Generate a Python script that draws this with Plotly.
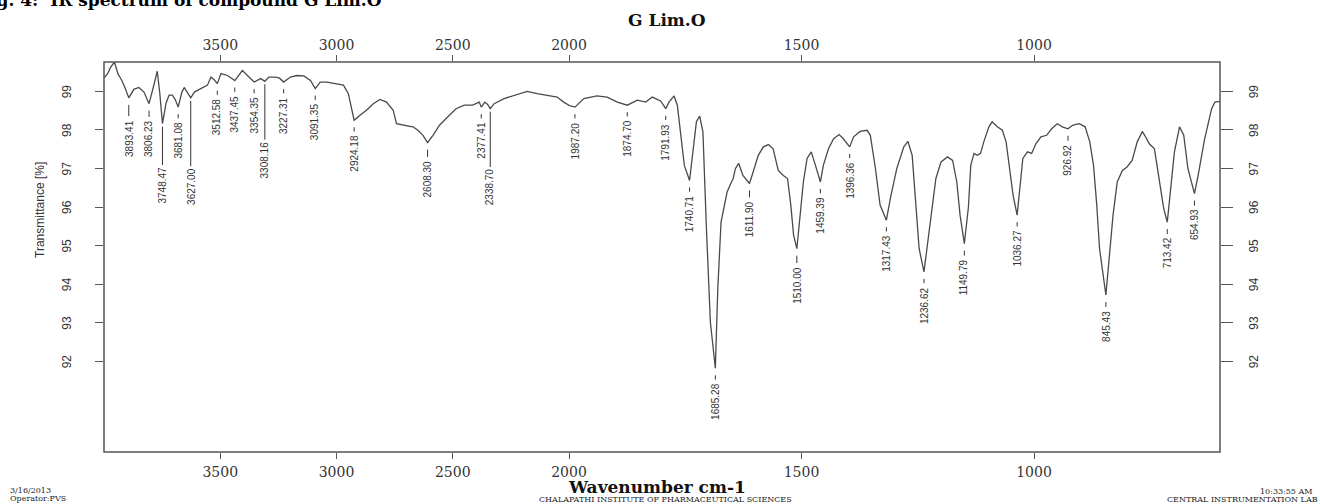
import numpy as np
import plotly.graph_objects as go

# ---------------- data ----------------
wavenumber = [
    4000, 3985, 3972, 3955, 3940, 3925, 3910, 3893.41, 3872, 3850, 3828, 3806.23,
    3786, 3771, 3760, 3748.47, 3733, 3720, 3706, 3693, 3681.08, 3665, 3655, 3643,
    3627.00, 3611, 3582, 3555, 3540, 3526, 3512.58, 3497, 3469, 3437.45, 3405, 3376,
    3354.35, 3326, 3308.16, 3291, 3262, 3245, 3227.31, 3198, 3170, 3141, 3112,
    3091.35, 3070, 3041, 2999, 2970, 2949, 2935, 2924.18, 2899, 2871, 2842, 2813,
    2785, 2756, 2742, 2714, 2690, 2671, 2650, 2628, 2608.30, 2585, 2557, 2521, 2486,
    2450, 2415, 2386, 2377.41, 2362, 2350, 2338.70, 2322, 2279, 2236, 2180, 2137,
    2094, 2051, 2023, 1987.20, 1968, 1940, 1918, 1896, 1874.70, 1853, 1835, 1821,
    1803, 1791.93, 1785, 1774, 1767, 1760, 1752, 1740.71, 1734, 1726, 1719, 1712,
    1705, 1696, 1685.28, 1680, 1673, 1664, 1660, 1654, 1647, 1642, 1635, 1626,
    1611.90, 1604, 1593, 1582, 1571, 1561, 1550, 1539, 1530, 1523, 1517, 1510.00,
    1503, 1496, 1488, 1479, 1470, 1459.39, 1453, 1442, 1431, 1419, 1410, 1396.36,
    1388, 1374, 1359, 1352, 1341, 1331, 1317.43, 1309, 1295, 1280, 1271, 1262,
    1254, 1247, 1236.62, 1230, 1222, 1211, 1200, 1186, 1175, 1166, 1159, 1149.79,
    1141, 1136, 1129, 1122, 1115, 1108, 1097, 1090, 1079, 1068, 1060, 1052, 1045,
    1036.27, 1031, 1024, 1014, 1005, 996, 985, 973, 962, 950, 939, 926.92, 917,
    903, 890, 880, 872, 865, 859, 845.43, 839, 830, 821, 810, 800, 789, 778, 767,
    762, 752, 741, 730, 721, 713.42, 708, 698, 687, 678, 669, 654.93, 647, 633,
    618, 611, 600,
]
transmittance = [
    99.35, 99.45, 99.62, 99.76, 99.45, 99.30, 99.10, 98.83, 99.05, 99.10, 98.98, 98.68,
    99.15, 99.52, 98.95, 98.16, 98.70, 98.90, 98.90, 98.78, 98.59, 98.98, 99.10, 98.98,
    98.83, 98.98, 99.07, 99.16, 99.37, 99.30, 99.20, 99.46, 99.41, 99.28, 99.54, 99.37,
    99.24, 99.33, 99.26, 99.37, 99.37, 99.34, 99.24, 99.37, 99.41, 99.40, 99.28,
    99.07, 99.24, 99.24, 99.20, 99.16, 98.94, 98.55, 98.25, 98.38, 98.51, 98.68, 98.79,
    98.72, 98.51, 98.16, 98.12, 98.10, 98.08, 97.99, 97.86, 97.67, 97.86, 98.12, 98.34, 98.55,
    98.64, 98.64, 98.72, 98.59, 98.72, 98.66, 98.55, 98.68, 98.81, 98.90, 99.00, 98.94,
    98.90, 98.85, 98.72, 98.59, 98.81, 98.88, 98.85, 98.72, 98.64, 98.77, 98.72, 98.85,
    98.75, 98.55, 98.72, 98.88, 98.64, 97.95, 97.08, 96.69, 97.34, 98.21, 98.36, 97.95,
    95.61, 93.02, 91.82, 93.89, 95.61, 96.22, 96.39, 96.56, 96.74, 97.00, 97.13, 96.82,
    96.61, 96.91, 97.34, 97.56, 97.62, 97.51, 96.95, 96.82, 96.74, 96.05, 95.27, 94.92,
    95.79, 96.65, 97.26, 97.43, 97.08, 96.65, 97.08, 97.51, 97.77, 97.88, 97.77, 97.56,
    97.82, 97.96, 97.99, 97.86, 97.00, 96.05, 95.66, 96.22, 97.00, 97.56, 97.70, 97.34,
    96.05, 94.92, 94.32, 94.92, 95.79, 96.74, 97.17, 97.30, 97.21, 96.65, 95.79, 95.05,
    96.00, 97.08, 97.39, 97.34, 97.39, 97.69, 98.08, 98.21, 98.08, 97.99, 97.69, 97.00, 96.31,
    95.79, 96.48, 97.26, 97.43, 97.39, 97.64, 97.82, 97.86, 98.03, 98.16, 98.08, 98.03, 98.12,
    98.16, 98.08, 97.69, 97.08, 96.05, 94.92, 93.72, 94.58, 95.79, 96.65, 96.95, 97.04, 97.21, 97.69, 97.96,
    97.86, 97.64, 97.51, 96.65, 95.96, 95.61, 96.31, 97.43, 98.08, 97.86, 97.00, 96.35, 96.82, 97.77,
    98.55, 98.72, 98.74,
]
peak_positions = [
    3893.41, 3806.23, 3748.47, 3681.08, 3627.00, 3512.58, 3437.45, 3354.35, 3308.16,
    3227.31, 3091.35, 2924.18, 2608.30, 2377.41, 2338.70, 1987.20, 1874.70, 1791.93,
    1740.71, 1685.28, 1611.90, 1510.00, 1459.39, 1396.36, 1317.43, 1236.62, 1149.79,
    1036.27, 926.92, 845.43, 713.42, 654.93,
]
x_ticks_high = [3500, 3000, 2500, 2000]
x_ticks_low = [1500, 1000]
y_ticks = [92, 93, 94, 95, 96, 97, 98, 99]

title_text = "G Lim.O"
x_title = "Wavenumber cm-1"
y_title = "Transmittance [%]"
header_text = "Fig. 4:  IR spectrum of compound G Lim.O"

# ---------------- styling / layout ----------------
W, H = 1320, 504
ML, MR, MT, MB = 104, 100, 62, 52
SPLIT = 2000
HIGH_RANGE = [4000, SPLIT]
LOW_RANGE = [SPLIT, 600]
Y_RANGE = [89.65, 99.76]
plot_w = W - ML - MR
plot_h = H - MT - MB
# the low-wavenumber half is drawn at double scale
split_frac = (HIGH_RANGE[0] - HIGH_RANGE[1]) / ((HIGH_RANGE[0] - HIGH_RANGE[1]) + 2 * (LOW_RANGE[0] - LOW_RANGE[1]))

LINE_COLOR = "#4a4a4a"
AXIS_COLOR = "#555555"
TEXT_COLOR = "#333333"
LABEL_FONT = "Liberation Sans Narrow, Arial Narrow, Liberation Sans, Arial, sans-serif"
SERIF = "DejaVu Serif, Liberation Serif, serif"

# distance (px) from band minimum to the top of its rotated label; longer leaders for staggered labels
label_gap = {3893.41: 24, 3806.23: 19, 3748.47: 45, 3627.00: 72, 3308.16: 62, 2338.70: 62,
             2608.30: 20, 1510.00: 20, 1611.90: 19}
default_gap = 17
long_leaders = {3748.47, 3627.00, 3308.16, 2338.70}

wn = np.array(wavenumber, dtype=float)
tr = np.array(transmittance, dtype=float)

fig = go.Figure()
hi_mask = wn >= 1987.0
lo_mask = wn <= 2023.0
fig.add_trace(go.Scatter(x=wn[hi_mask], y=tr[hi_mask], mode="lines", xaxis="x", yaxis="y",
                         line=dict(color=LINE_COLOR, width=1.3), showlegend=False, hoverinfo="x+y"))
fig.add_trace(go.Scatter(x=wn[lo_mask], y=tr[lo_mask], mode="lines", xaxis="x2", yaxis="y",
                         line=dict(color=LINE_COLOR, width=1.3), showlegend=False, hoverinfo="x+y"))
# invisible copies so the top and right mirror axes are drawn
fig.add_trace(go.Scatter(x=wn[hi_mask], y=tr[hi_mask], mode="lines", xaxis="x3", yaxis="y",
                         line=dict(color="rgba(0,0,0,0)", width=0), showlegend=False,
                         hoverinfo="skip"))
fig.add_trace(go.Scatter(x=wn[lo_mask], y=tr[lo_mask], mode="lines", xaxis="x4", yaxis="y2",
                         line=dict(color="rgba(0,0,0,0)", width=0), showlegend=False,
                         hoverinfo="skip"))

tickfont_x = dict(family=SERIF, size=14, color=TEXT_COLOR)
common_x = dict(showgrid=False, zeroline=False, showline=False, ticks="outside", ticklen=6,
                tickwidth=1.2, tickcolor=AXIS_COLOR, tickfont=tickfont_x)

ytick_font = dict(family=LABEL_FONT, size=12, color=TEXT_COLOR)
common_y = dict(range=Y_RANGE, tickvals=y_ticks, ticks="outside", tickwidth=1.2,
                tickcolor=AXIS_COLOR, showticklabels=False, showgrid=False, zeroline=False,
                showline=False)

fig.update_layout(
    width=W, height=H,
    margin=dict(l=ML, r=MR, t=MT, b=MB, pad=0),
    paper_bgcolor="white", plot_bgcolor="white",
    showlegend=False,
    xaxis=dict(domain=[0, split_frac], range=HIGH_RANGE, anchor="y", side="bottom",
               tickvals=x_ticks_high, ticklabelstandoff=1, **common_x),
    xaxis2=dict(domain=[split_frac, 1], range=LOW_RANGE, anchor="y", side="bottom",
                tickvals=x_ticks_low, ticklabelstandoff=1, **common_x),
    xaxis3=dict(domain=[0, split_frac], range=HIGH_RANGE, anchor="y", side="top", overlaying="x",
                tickvals=x_ticks_high, ticklabelstandoff=-1, **common_x),
    xaxis4=dict(domain=[split_frac, 1], range=LOW_RANGE, anchor="y", side="top", overlaying="x2",
                tickvals=x_ticks_low, ticklabelstandoff=-1, **common_x),
    yaxis=dict(anchor="x", side="left", ticklen=8, **common_y),
    yaxis2=dict(anchor="x2", overlaying="y", side="right", ticklen=12, **common_y),
)

# plot frame
fig.add_shape(type="rect", xref="paper", yref="paper", x0=0, x1=1, y0=0, y1=1,
              line=dict(color=AXIS_COLOR, width=1.5), fillcolor="rgba(0,0,0,0)", layer="above")


def paper_x(px):
    return (px - ML) / plot_w


def paper_y(py):
    return (H - MB - py) / plot_h


annotations = []
# y tick labels on both sides (rotated like the instrument printout)
for yt in y_ticks:
    for xpix in (67, 1254):
        annotations.append(dict(
            x=paper_x(xpix), y=yt, xref="paper", yref="y", text=str(yt), textangle=-90,
            showarrow=False, xanchor="center", yanchor="middle", font=ytick_font))

# peak labels
wn_asc = wn[::-1]
tr_asc = tr[::-1]
for p in peak_positions:
    t_val = float(np.interp(p, wn_asc, tr_asc))
    text = f"{p:.2f}"
    half_len = (len(text) - 1) * 4.6 / 2 + 2.5
    gap = label_gap.get(p, default_gap)
    is_long = p in long_leaders
    annotations.append(dict(
        x=p, y=t_val, xref="x" if p >= SPLIT else "x2", yref="y",
        text=text, textangle=-90, showarrow=True, arrowhead=0, arrowwidth=1,
        arrowcolor=TEXT_COLOR, ax=0, ay=gap + half_len, axref="pixel", ayref="pixel",
        standoff=3 if is_long else 7, startstandoff=1 if is_long else 3,
        font=dict(family=LABEL_FONT, size=10, color=TEXT_COLOR), borderpad=0,
    ))

small_font = dict(family=SERIF, size=8, color="#222222")
annotations += [
    dict(text=title_text, x=paper_x(667), y=paper_y(20), xref="paper", yref="paper",
         xanchor="center", yanchor="middle", showarrow=False,
         font=dict(family=SERIF, size=17, color="#111111", weight="bold")),
    dict(text=x_title, x=paper_x(657), y=paper_y(487), xref="paper", yref="paper",
         xanchor="center", yanchor="middle", showarrow=False,
         font=dict(family=SERIF, size=17, color="#111111", weight="bold")),
    dict(text=y_title, x=paper_x(40), y=paper_y(210), xref="paper", yref="paper",
         xanchor="center", yanchor="middle", textangle=-90, showarrow=False,
         font=dict(family="Liberation Sans, Arial, sans-serif", size=12, color=TEXT_COLOR)),
    dict(text=header_text, x=paper_x(-24), y=paper_y(0), xref="paper", yref="paper",
         xanchor="left", yanchor="middle", showarrow=False,
         font=dict(family=SERIF, size=17, color="#000000", weight="bold")),
    dict(text="3/16/2013", x=paper_x(8), y=paper_y(490), xref="paper", yref="paper",
         xanchor="left", yanchor="middle", showarrow=False, font=small_font),
    dict(text="Operator:PVS", x=paper_x(8), y=paper_y(498), xref="paper", yref="paper",
         xanchor="left", yanchor="middle", showarrow=False, font=small_font),
    dict(text="CHALAPATHI INSTITUTE OF PHARMACEUTICAL SCIENCES", x=paper_x(665), y=paper_y(499),
         xref="paper", yref="paper", xanchor="center", yanchor="middle", showarrow=False,
         font=small_font),
    dict(text="10:33:55 AM", x=paper_x(1314), y=paper_y(491), xref="paper", yref="paper",
         xanchor="right", yanchor="middle", showarrow=False, font=small_font),
    dict(text="CENTRAL INSTRUMENTATION LAB", x=paper_x(1320), y=paper_y(499), xref="paper",
         yref="paper", xanchor="right", yanchor="middle", showarrow=False, font=small_font),
]
fig.update_layout(annotations=annotations)

fig.write_html("out.html")
